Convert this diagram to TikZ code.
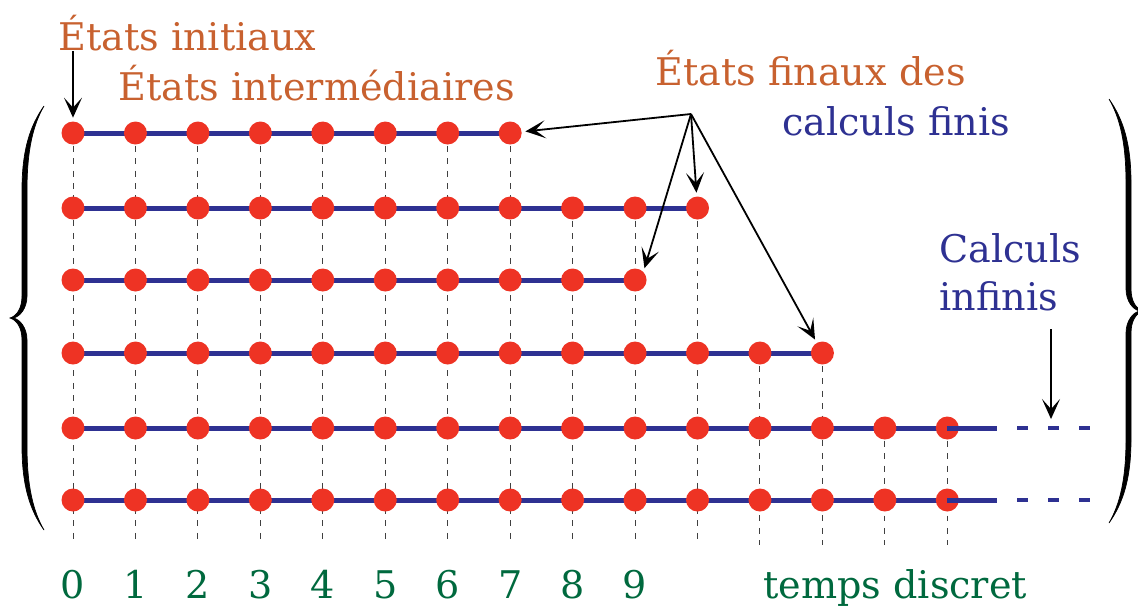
\documentclass[tikz,border=0pt]{standalone}
\usepackage{fontspec}
\setmainfont{DejaVu Serif}
\usepackage{tikz}
\usetikzlibrary{arrows.meta, backgrounds}
\usepackage{xcolor}
\definecolor{rouge}{HTML}{EE3324}
\definecolor{bleu}{HTML}{2E3192}
\definecolor{orange}{HTML}{C8612F}
\definecolor{vert}{HTML}{00693E}

\begin{document}
\begin{tikzpicture}[x=0.02cm, y=-0.02cm,
    etat/.style={circle, fill=rouge, inner sep=0pt, minimum size=0.46cm},
    calc/.style={bleu, line width=0.1cm},
    guide/.style={gray!50!black, line width=0.02cm, dash pattern=on 0.12cm off 0.13cm},
    ptr/.style={-{Stealth[length=0.4cm, width=0.36cm, inset=0.2cm]}, line width=0.036cm,
                shorten >=2pt},
    accolade/.style={fill=black, draw=black, line width=0.4pt},
    lbl/.style={font=\fontsize{21.7}{26}\selectfont, inner sep=0pt},
    titre/.style={lbl, orange},
    info/.style={lbl, bleu},
    temps/.style={lbl, vert}
  ]
    \useasboundingbox (0,0) rectangle (1138,610);

    % Rows of states (one per computation)
    \foreach \r/\yy/\last in {1/133/7, 2/208/10, 3/280/9, 4/353/12, 5/428/14, 6/500/14} {
      \foreach \c in {0,...,\last}
        \node[etat] (d\r-\c) at ({73+62.45*\c},\yy) {};
      \begin{scope}[on background layer]
        \draw[calc] (d\r-0.center) -- (d\r-\last.center);
      \end{scope}
    }

    % Time guides
    \coordinate (bas) at (0,545);
    \begin{scope}[on background layer]
      \foreach \c/\r in {0/1, 1/1, 2/1, 3/1, 4/1, 5/1, 6/1, 7/1, 8/2, 9/2, 10/2,
                         11/4, 12/4, 13/5, 14/5}
        \draw[guide] (d\r-\c.center) -- (d\r-\c.center |- bas);
    \end{scope}

    % Infinite computations go on
    \foreach \r in {5,6} {
      \coordinate (fin\r) at ([xshift=1.0cm]d\r-14.center);
      \coordinate (suite\r) at ([xshift=1.4cm]d\r-14.center);
      \coordinate (bout\r) at ([xshift=2.86cm]d\r-14.center);
      \draw[calc] (d\r-14.center) -- (fin\r);
      \draw[calc, line width=0.09cm, dash pattern=on 0.22cm off 0.4cm] (suite\r) -- (bout\r);
    }

    % Time axis
    \foreach \c in {0,...,9}
      \node[temps, anchor=base] (t\c) at ({73+62.45*\c},598) {\c};
    \node[temps, anchor=base west] (tdisc) at (763,598) {temps discret};

    % Labels
    \node[titre, anchor=base west] (init) at (58,50) {États initiaux};
    \node[titre, anchor=base west] (inter) at (118,100) {États intermédiaires};
    \node[titre, anchor=base west] (finaux) at (655,85) {États finaux des};
    \node[info, anchor=base west] (finis) at (782,135) {calculs finis};
    \node[info, anchor=base west] (calc) at (939,262) {Calculs};
    \node[info, anchor=base west] (inf) at (939,310) {infinis};

    % Arrows
    \draw[ptr] (d1-0 |- init.south) -- (d1-0);
    \coordinate (fins) at (691,114);
    \draw[ptr] (fins) -- (d1-7);
    \draw[ptr] (fins) -- (d2-10);
    \draw[ptr] (fins) -- (d3-9.north east);
    \draw[ptr] (fins) -- (d4-12);
    \coordinate (infhaut) at (1051,329);
    \coordinate (infbas) at (1051,419);
    \draw[ptr, shorten >=0pt] (infhaut) -- (infbas);

    % Braces
    \foreach \sx/\tx/\ty in {1/10/318, -1/1143/311} {
      \begin{scope}[shift={(\tx,\ty)}, xscale=\sx]
        \path[accolade] (34,-212) .. controls (20,-192) and (12,-168) .. (12,-128)
          -- (12,-22) .. controls (12,-10) and (7,-2) .. (0,0)
          .. controls (7,2) and (12,10) .. (12,22) -- (12,128)
          .. controls (12,168) and (20,192) .. (34,212)
          .. controls (23,193) and (17,168) .. (17,128) -- (17,22)
          .. controls (17,10) and (10,1) .. (3,0)
          .. controls (10,-1) and (17,-10) .. (17,-22) -- (17,-128)
          .. controls (17,-168) and (23,-193) .. (34,-212) -- cycle;
      \end{scope}
    }
  \end{tikzpicture}
\end{document}
